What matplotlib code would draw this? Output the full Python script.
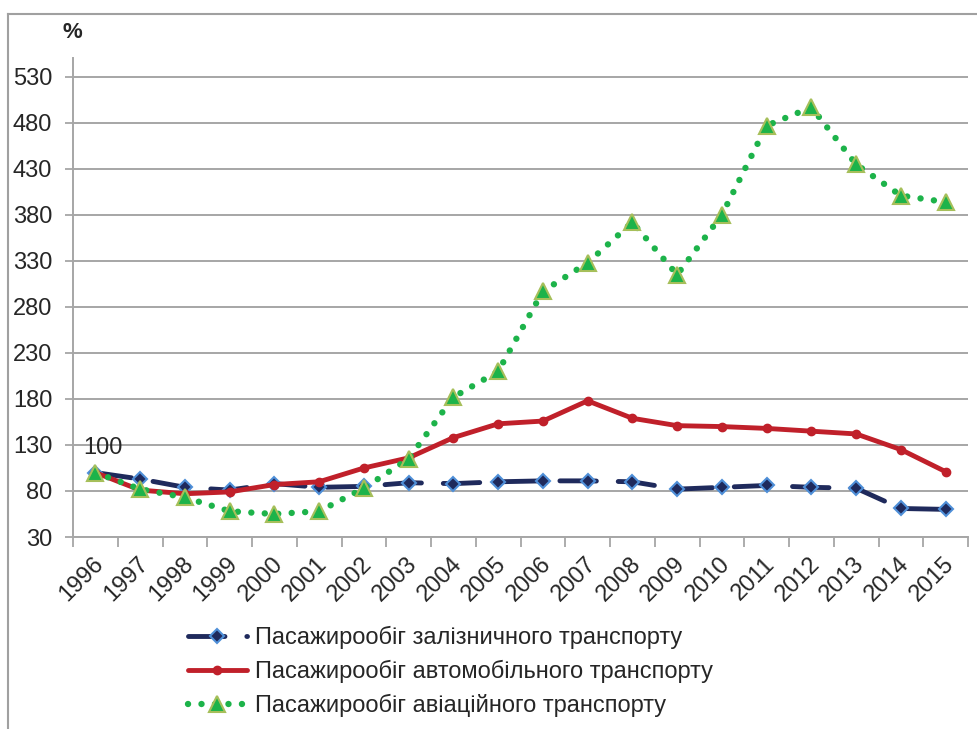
import matplotlib.pyplot as plt
from matplotlib.lines import Line2D
from matplotlib.transforms import ScaledTranslation

plt.rcParams['font.family'] = ['Liberation Sans', 'DejaVu Sans']

years = [str(y) for y in range(1996, 2016)]

# passenger turnover, % of 1996
rail = [100, 93, 84, 81, 88, 84, 85, 89, 88, 90, 91, 91, 90, 82, 84, 86, 84, 83, 61, 60]
road = [100, 81, 77, 79, 87, 90, 105, 116, 138, 153, 156, 178, 159, 151, 150, 148, 145, 142, 125, 101]
air = [100, 82, 73, 58, 55, 58, 83, 115, 182, 210, 297, 328, 372, 315, 380, 477, 497, 435, 401, 394]

labels = ['Пасажирообіг залізничного транспорту',
          'Пасажирообіг автомобільного транспорту',
          'Пасажирообіг авіаційного транспорту']

text_col = '#262626'
grid_col = '#A6A6A6'

fig = plt.figure(figsize=(9.77, 7.29), dpi=100)
ax = fig.add_axes([73 / 977, 1 - 537 / 729, 895 / 977, (537 - 58.5) / 729])

x = list(range(len(years)))

ax.plot(x, rail, color='#1F2A5C', lw=3.5, linestyle=(0, (7.5, 4.5)),
        dash_capstyle='round', marker='D', markersize=7,
        markerfacecolor='#1F2A5C', markeredgecolor='#4F8FD8', markeredgewidth=1.5,
        label=labels[0], zorder=3)
ax.plot(x, road, color='#C0202A', lw=3.5, solid_capstyle='round',
        marker='o', markersize=6, label=labels[1], zorder=4)
ax.plot(x, air, color='#1DB34A', lw=4.6, linestyle=(0, (0.01, 2.1)),
        dash_capstyle='round', marker='^', markersize=11,
        markerfacecolor='#1DB34A', markeredgecolor='#A6BF5A', markeredgewidth=1.5,
        label=labels[2], zorder=5)

ax.annotate('100', (0, air[0]), xytext=(8, 25), textcoords='offset pixels',
            ha='center', va='center', fontsize=17, color=text_col)

ax.set_xlim(-0.5, len(years) - 0.5)
ax.set_ylim(30, 550)
ax.set_yticks(range(30, 531, 50))
ax.set_xticks(x)
ax.set_xticklabels(years, rotation=45, ha='right', va='center',
                   rotation_mode='anchor')
ax.set_xticks([i - 0.5 for i in range(len(years) + 1)], minor=True)
ax.tick_params(axis='x', which='major', length=0, pad=17, labelsize=17,
               labelcolor=text_col)
ax.tick_params(axis='x', which='minor', length=7, width=1.3, color=grid_col)
ax.tick_params(axis='y', length=6, width=1.3, color=grid_col, pad=9,
               labelsize=17, labelcolor=text_col)
shift = ScaledTranslation(5 / 100, 0, fig.dpi_scale_trans)
for lbl in ax.get_xticklabels():
    lbl.set_transform(lbl.get_transform() + shift)

ax.grid(axis='y', color=grid_col, lw=1.4)
ax.set_axisbelow(True)
for side in ['top', 'right']:
    ax.spines[side].set_visible(False)
for side in ['left', 'bottom']:
    ax.spines[side].set_color(grid_col)
    ax.spines[side].set_linewidth(1.4)

fig.text(72 / 977, 1 - 32 / 729, '%', fontsize=16, fontweight='bold',
         ha='center', va='center', color=text_col)

fig.legend(loc='upper left', bbox_to_anchor=(176 / 977, 1 - 614 / 729),
           frameon=False, fontsize=17, handlelength=2.5, handletextpad=0.35,
           labelspacing=0.46, borderpad=0, labelcolor=text_col)

# outer chart frame
fig.add_artist(Line2D([8 / 977, 1], [1 - 14 / 729, 1 - 14 / 729],
                      transform=fig.transFigure, color='#A0A0A0', lw=1.5))
fig.add_artist(Line2D([8 / 977, 8 / 977], [0, 1 - 14 / 729],
                      transform=fig.transFigure, color='#A0A0A0', lw=1.5))

fig.savefig('out.png', dpi=100)
